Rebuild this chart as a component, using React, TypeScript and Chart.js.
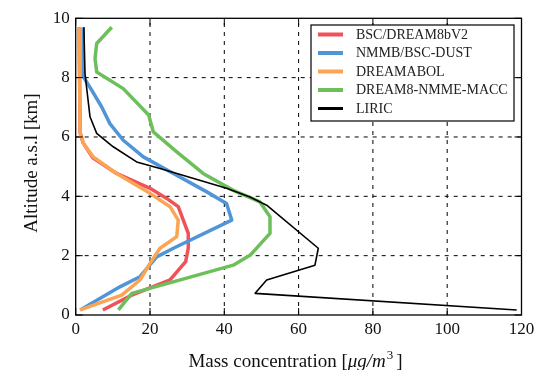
import React, { useEffect, useRef } from "react";
import { Chart, registerables } from "chart.js";

Chart.register(...registerables);

const seriesLabels = ["BSC/DREAM8bV2", "NMMB/BSC-DUST", "DREAMABOL", "DREAM8-NMME-MACC", "LIRIC"];
const seriesColors = ["#f0525a", "#4f95d8", "#fba454", "#6dbf5c", "#000000"];
const seriesWidths = [3.5, 3.5, 3.5, 3.5, 1.6];

const xTicks = [0, 20, 40, 60, 80, 100, 120];
const yTicks = [0, 2, 4, 6, 8, 10];

// altitude a.s.l. (km) and mass concentration (µg/m³)
const bscAltitude = [0.17, 0.67, 1.18, 1.8, 2.25, 2.75, 3.65, 3.93, 4.27, 4.77, 5.3, 5.8, 6.15, 9.7];
const bscConc = [7.3, 15.1, 25.4, 29.6, 30.3, 30.3, 27.6, 24.5, 20.0, 11.0, 4.6, 2.0, 1.2, 0.9];

const nmmbAltitude = [0.17, 0.95, 1.29, 1.96, 2.25, 3.2, 3.76, 4.15, 4.77, 5.33, 5.89, 6.45, 7.01, 7.58, 8.02, 9.7];
const nmmbConc = [1.2, 11.9, 17.3, 21.8, 26.3, 42.0, 40.6, 35.3, 26.3, 18.2, 12.8, 9.2, 7.0, 4.3, 2.1, 2.0];

const dreamabolAltitude = [0.17, 0.67, 1.18, 1.74, 2.25, 2.64, 3.2, 3.65, 4.1, 4.77, 5.33, 5.78, 6.1, 9.7];
const dreamabolConc = [1.2, 12.4, 17.3, 20.0, 22.7, 27.2, 27.6, 25.4, 20.0, 11.0, 4.7, 2.1, 1.2, 0.9];

const maccAltitude = [0.17, 0.73, 1.68, 2.02, 2.75, 3.31, 3.81, 4.2, 4.77, 5.5, 6.17, 6.57, 6.73, 7.63, 8.19, 8.64, 9.15, 9.7];
const maccConc = [11.5, 15.1, 42.4, 47.0, 52.3, 52.3, 49.6, 42.4, 34.3, 27.2, 20.9, 20.0, 19.7, 12.8, 5.65, 5.2, 5.65, 9.7];

const liricAltitude = [0.17, 0.73, 1.18, 1.68, 2.25, 3.7, 3.98, 4.27, 4.94, 5.16, 5.67, 6.12, 6.68, 8.14, 9.7];
const liricConc = [118.7, 48.3, 51.4, 64.4, 65.3, 51.4, 46.9, 40.6, 22.7, 16.4, 10.1, 5.65, 3.85, 2.5, 2.2];

const seriesAltitudes = [bscAltitude, nmmbAltitude, dreamabolAltitude, maccAltitude, liricAltitude];
const seriesConcs = [bscConc, nmmbConc, dreamabolConc, maccConc, liricConc];

const SERIF = "'Liberation Serif', 'Times New Roman', serif";

const framePlugin = {
  id: "frameAndLegend",
  beforeDatasetsDraw(chart: any) {
    const { ctx, chartArea: a, scales } = chart;
    const x = scales.x;
    const y = scales.y;
    ctx.save();
    ctx.strokeStyle = "#000";
    ctx.lineWidth = 1;
    ctx.setLineDash([4, 5]);
    x.ticks.forEach((t: any) => {
      const px = x.getPixelForValue(t.value);
      if (px <= a.left + 1 || px >= a.right - 1) return;
      ctx.beginPath();
      ctx.moveTo(px, a.bottom);
      ctx.lineTo(px, a.top);
      ctx.stroke();
    });
    y.ticks.forEach((t: any) => {
      const py = y.getPixelForValue(t.value);
      if (py <= a.top + 1 || py >= a.bottom - 1) return;
      ctx.beginPath();
      ctx.moveTo(a.left, py);
      ctx.lineTo(a.right, py);
      ctx.stroke();
    });
    ctx.restore();
  },
  afterDatasetsDraw(chart: any) {
    const { ctx, chartArea: a, scales } = chart;
    const x = scales.x;
    const y = scales.y;
    const tl = 7;
    ctx.save();
    ctx.setLineDash([]);
    ctx.strokeStyle = "#000";
    ctx.lineWidth = 1;
    x.ticks.forEach((t: any) => {
      const px = x.getPixelForValue(t.value);
      ctx.beginPath();
      ctx.moveTo(px, a.bottom);
      ctx.lineTo(px, a.bottom - tl);
      ctx.moveTo(px, a.top);
      ctx.lineTo(px, a.top + tl);
      ctx.stroke();
    });
    y.ticks.forEach((t: any) => {
      const py = y.getPixelForValue(t.value);
      ctx.beginPath();
      ctx.moveTo(a.left, py);
      ctx.lineTo(a.left + tl, py);
      ctx.moveTo(a.right, py);
      ctx.lineTo(a.right - tl, py);
      ctx.stroke();
    });
    ctx.lineWidth = 1.3;
    ctx.strokeRect(a.left, a.top, a.right - a.left, a.bottom - a.top);
    ctx.restore();
  },
  afterDraw(chart: any) {
    const { ctx } = chart;
    ctx.save();
    // legend
    const lx = 311, ly = 25, lw = 203, lh = 96;
    ctx.fillStyle = "#fff";
    ctx.fillRect(lx, ly, lw, lh);
    ctx.strokeStyle = "#000";
    ctx.lineWidth = 1.2;
    ctx.strokeRect(lx, ly, lw, lh);
    ctx.font = `14px ${SERIF}`;
    ctx.textBaseline = "middle";
    ctx.textAlign = "left";
    seriesLabels.forEach((label, i) => {
      const cy = 34.5 + i * 18.5;
      ctx.strokeStyle = seriesColors[i];
      ctx.lineWidth = i === 4 ? 3 : 4;
      ctx.beginPath();
      ctx.moveTo(318, cy);
      ctx.lineTo(343, cy);
      ctx.stroke();
      ctx.fillStyle = "#222";
      ctx.fillText(label, 356, cy + 0.5);
    });
    // y title
    ctx.fillStyle = "#111";
    ctx.save();
    ctx.translate(36.5, 163);
    ctx.rotate(-Math.PI / 2);
    ctx.font = `19px ${SERIF}`;
    ctx.textAlign = "center";
    ctx.textBaseline = "alphabetic";
    ctx.fillText("Altitude a.s.l [km]", 0, 0);
    ctx.restore();
    // x title
    const parts = [
      { t: "Mass concentration [", f: `19px ${SERIF}`, dy: 0, gap: 0 },
      { t: "\u03bcg/m", f: `italic 19px ${SERIF}`, dy: 0, gap: 1 },
      { t: "3", f: `13px ${SERIF}`, dy: -8, gap: 3 },
      { t: "]", f: `19px ${SERIF}`, dy: 0, gap: 0 },
    ];
    let total = 0;
    parts.forEach((p) => {
      ctx.font = p.f;
      total += ctx.measureText(p.t).width + p.gap;
    });
    let cx = 295.5 - total / 2;
    ctx.textAlign = "left";
    ctx.textBaseline = "alphabetic";
    parts.forEach((p) => {
      ctx.font = p.f;
      ctx.fillText(p.t, cx, 367 + p.dy);
      cx += ctx.measureText(p.t).width + p.gap;
    });
    ctx.restore();
  },
};

export default function App() {
  const ref = useRef<HTMLCanvasElement | null>(null);
  useEffect(() => {
    document.body.style.margin = "0";
    const canvas = ref.current;
    if (!canvas) return;
    const datasets = seriesLabels.map((label, i) => ({
      label,
      data: seriesAltitudes[i].map((alt, j) => ({ x: seriesConcs[i][j], y: alt })),
      showLine: true,
      borderColor: seriesColors[i],
      backgroundColor: seriesColors[i],
      borderWidth: seriesWidths[i],
      pointRadius: 0,
      pointHoverRadius: 0,
      tension: 0,
      fill: false,
      order: 5 - i,
      borderJoinStyle: "round" as const,
      borderCapStyle: "butt" as const,
    }));
    const tickFont = { family: SERIF, size: 17 };
    const chart = new Chart(canvas, {
      type: "scatter",
      data: { datasets },
      options: {
        responsive: false,
        animation: false,
        layout: { padding: { top: 18.3, right: 17.5, left: 0, bottom: 0 } },
        plugins: { legend: { display: false }, tooltip: { enabled: false }, title: { display: false } },
        scales: {
          x: {
            type: "linear",
            min: 0,
            max: 120,
            afterBuildTicks: (s: any) => {
              s.ticks = xTicks.map((v) => ({ value: v }));
            },
            ticks: { font: tickFont, color: "#111", padding: 4, maxRotation: 0, autoSkip: false },
            grid: { display: false, drawTicks: false },
            border: { display: false },
            afterFit: (s: any) => {
              s.height = 55;
            },
          },
          y: {
            type: "linear",
            min: 0,
            max: 10,
            afterBuildTicks: (s: any) => {
              s.ticks = yTicks.map((v) => ({ value: v }));
            },
            ticks: { font: tickFont, color: "#111", padding: 6, autoSkip: false },
            grid: { display: false, drawTicks: false },
            border: { display: false },
            afterFit: (s: any) => {
              s.width = 75.7;
            },
          },
        },
      },
      plugins: [framePlugin],
    });
    return () => chart.destroy();
  }, []);
  return (
    <div style={{ width: 539, height: 370 }}>
      <canvas ref={ref} width={539} height={370} style={{ display: "block" }} />
    </div>
  );
}
